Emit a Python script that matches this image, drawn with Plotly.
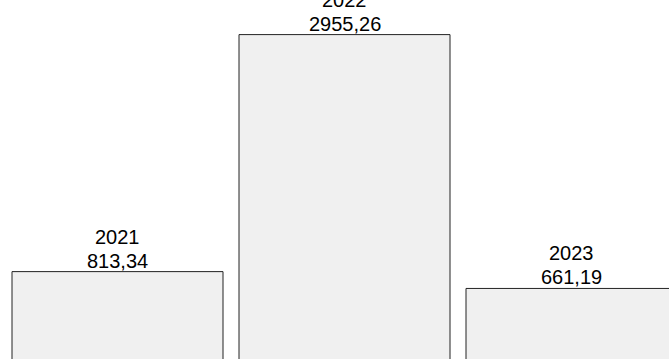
import plotly.graph_objects as go

years = ["2021", "2022", "2023"]
values = [813.34, 2955.26, 661.19]
value_labels = ["813,34", "2955,26", "661,19"]

FONT = dict(family="Liberation Sans, Arial, sans-serif", size=20, color="#000000")

fig = go.Figure(
    go.Bar(
        x=[0, 1, 2],
        y=values,
        width=0.9295,
        marker=dict(color="#f0f0f0", line=dict(color="#222222", width=1)),
        hoverinfo="skip",
    )
)

for i, (yr, v, lab) in enumerate(zip(years, values, value_labels)):
    fig.add_annotation(x=i, y=v, text=lab, showarrow=False, xanchor="center",
                       yanchor="bottom", yshift=-2, font=FONT)
    fig.add_annotation(x=i, y=v, text=yr, showarrow=False, xanchor="center",
                       yanchor="bottom", yshift=22, font=FONT)

fig.update_layout(
    width=669,
    height=359,
    margin=dict(l=0, r=0, t=0, b=0),
    paper_bgcolor="white",
    plot_bgcolor="white",
    showlegend=False,
    xaxis=dict(range=[-0.5176, 2.4295], visible=False),
    yaxis=dict(range=[23.5, 3268], visible=False),
)

fig.write_html("out.html", config={"displayModeBar": False},
               post_script="document.body.style.margin='0';document.body.style.overflow='hidden';")
